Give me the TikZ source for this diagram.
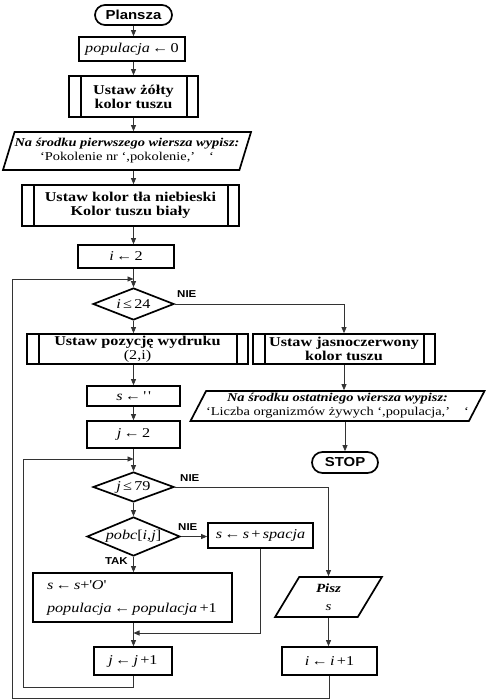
\documentclass[tikz,border=0pt]{standalone}
\usepackage{fontspec}
\setmainfont[FakeStretch=1.2]{Liberation Serif}
\newfontfamily\arialfont[FakeStretch=1.15]{Liberation Sans}
\usetikzlibrary{shapes.geometric,shapes.misc,arrows.meta}
\begin{document}
\begin{tikzpicture}[x=1pt,y=-1pt,
  box/.style={draw, line width=1.7pt, inner sep=0pt, align=center, font=\fontsize{13.5}{14}\selectfont},
  sub/.style={box, font=\fontsize{13.5}{14}\selectfont\bfseries, path picture={
     \draw[line width=1.4pt] ([xshift=12pt]path picture bounding box.north west) -- ([xshift=12pt]path picture bounding box.south west);
     \draw[line width=1.4pt] ([xshift=-11pt]path picture bounding box.north east) -- ([xshift=-11pt]path picture bounding box.south east);}},
  term/.style={draw, line width=1.7pt, rounded rectangle, inner sep=0pt, font=\arialfont\bfseries\fontsize{13}{14}\selectfont},
  dec/.style={draw, line width=1.7pt, diamond, aspect=2.5, inner sep=0pt, font=\fontsize{13.5}{14}\selectfont},
  io/.style={draw, line width=1.7pt, trapezium, trapezium stretches=true, inner sep=0pt, align=center, font=\fontsize{12}{14}\selectfont},
  lab/.style={font=\arialfont\bfseries\fontsize{10}{10}\selectfont, inner sep=0pt},
  conn/.style={draw=black!80, line width=0.8pt},
  arr/.style={conn, -{Triangle[length=6pt,width=5pt]}}
]
\fill[white] (0,0) rectangle (497,700);
\useasboundingbox (0,0) rectangle (497,700);
\coordinate (ax) at (133.5,0);
\coordinate (m1) at (133.5,279);
\coordinate (m2) at (133.5,459);
\coordinate (m3) at (133.5,633);
\coordinate (l1) at (23,687);
\coordinate (l2) at (12,698);

\node[term, minimum width=77pt, minimum height=20pt] (start) at (133.5,15) {Plansza};
\node[box, minimum width=106pt, minimum height=24pt] (pop) at (132,49) {\textit{populacja}\,←\,0};
\node[sub, minimum width=129pt, minimum height=41pt] (zol) at (133.5,96.5) {Ustaw żółty\\kolor tuszu};
\node[io, trapezium left angle=65, trapezium right angle=115, minimum width=246pt, minimum height=38pt] (we1) at (127,151)
  {\textbf{\textit{Na środku pierwszego wiersza wypisz:}}\\‘Pokolenie nr ‘,pokolenie,’\hspace{14pt}‘};
\node[sub, minimum width=217pt, minimum height=41pt] (tla) at (130.5,205.5) {Ustaw kolor tła niebieski\\Kolor tuszu biały};
\node[box, minimum width=96pt, minimum height=23pt] (i2) at (126,256.5) {\textit{i}\,←\,2};
\node[dec, minimum width=81pt, minimum height=32pt] (d1) at (133.5,304) {\textit{i}\,≤\,24};
\node[lab, anchor=south west] (nie1) at (177,298) {NIE};
\node[sub, minimum width=221pt, minimum height=30pt] (poz) at (137.5,349) {Ustaw pozycję wydruku\\\mdseries(2,i)};
\node[sub, minimum width=182pt, minimum height=30pt] (jas) at (344,349) {Ustaw jasnoczerwony\\kolor tuszu};
\node[box, minimum width=93pt, minimum height=20pt] (s0) at (133.5,396) {\textit{s}\,←\,\textquotesingle\,\textquotesingle};
\node[io, trapezium left angle=58, trapezium right angle=122, minimum width=289pt, minimum height=30pt] (we2) at (337.5,406)
  {\textbf{\textit{Na środku ostatniego wiersza wypisz:}}\\‘Liczba organizmów żywych ‘,populacja,’\hspace{14pt}‘};
\node[box, minimum width=93pt, minimum height=27pt] (j2) at (133.5,434.5) {\textit{j}\,←\,2};
\node[term, minimum width=66pt, minimum height=21pt] (stop) at (345,462.5) {STOP};
\node[dec, minimum width=81pt, minimum height=30pt] (d2) at (133.5,487) {\textit{j}\,≤\,79};
\node[lab, anchor=south west] (nie2) at (180,482) {NIE};
\node[dec, minimum width=93pt, minimum height=39pt] (d3) at (133.5,536.5) {\textit{pobc}[\textit{i,j}]};
\node[lab, anchor=south west] (nie3) at (178,531) {NIE};
\node[lab, anchor=south east] (tak) at (128,565) {TAK};
\node[box, minimum width=105pt, minimum height=25pt] (sp) at (260.5,535.5) {\textit{s}\,←\,\textit{s}\,+\,\textit{spacja}};
\node[box, minimum width=199pt, minimum height=49pt, text width=171pt, align=left, font=\fontsize{13.5}{23}\selectfont] (sO) at (132.5,597.5)
  {\textit{s}\,←\,\textit{s}+\textquotesingle\textit{O}\textquotesingle\\\textit{populacja}\,←\,\textit{populacja}\,+1};
\node[io, trapezium left angle=69, trapezium right angle=111, minimum width=107pt, minimum height=40pt, font=\fontsize{12.5}{18}\selectfont] (pisz) at (328.5,597)
  {\textbf{\textit{Pisz}}\\\textit{s}};
\node[box, minimum width=78pt, minimum height=28pt] (jj1) at (133,661) {\textit{j}\,←\,\textit{j}\,+1};
\node[box, minimum width=95pt, minimum height=28pt] (ii1) at (329.5,661) {\textit{i}\,←\,\textit{i}\,+1};

\draw[arr] (start.south -| ax) -- (pop.north -| ax);
\draw[arr] (pop.south -| ax) -- (zol.north -| ax);
\draw[arr] (zol.south -| ax) -- (we1.north -| ax);
\draw[arr] (we1.south -| ax) -- (tla.north -| ax);
\draw[arr] (tla.south -| ax) -- (i2.north -| ax);
\draw[arr] (i2.south -| ax) -- (d1.north);
\draw[arr] (d1.south) -- (poz.north -| ax);
\draw[arr] (d1.east) -| (jas.north);
\draw[arr] (poz.south -| ax) -- (s0.north -| ax);
\draw[arr] (jas.south) -- (we2.north -| jas.south);
\draw[arr] (s0.south -| ax) -- (j2.north -| ax);
\draw[arr] (we2.south -| stop.north) -- (stop.north);
\draw[arr] (j2.south -| ax) -- (d2.north);
\draw[arr] (d2.south) -- (d3.north);
\draw[arr] (d2.east) -| (pisz.north);
\draw[arr] (d3.east) -- (sp.west |- d3.east);
\draw[arr] (d3.south) -- (sO.north -| ax);
\draw[arr] (sp.south) |- (m3);
\draw[arr] (sO.south -| ax) -- (jj1.north -| ax);
\draw[arr] (pisz.south) -- (ii1.north -| pisz.south);
\draw[arr] (jj1.south) |- (l1) |- (m2);
\draw[arr] (ii1.south) |- (l2) |- (m1);
\end{tikzpicture}
\end{document}
